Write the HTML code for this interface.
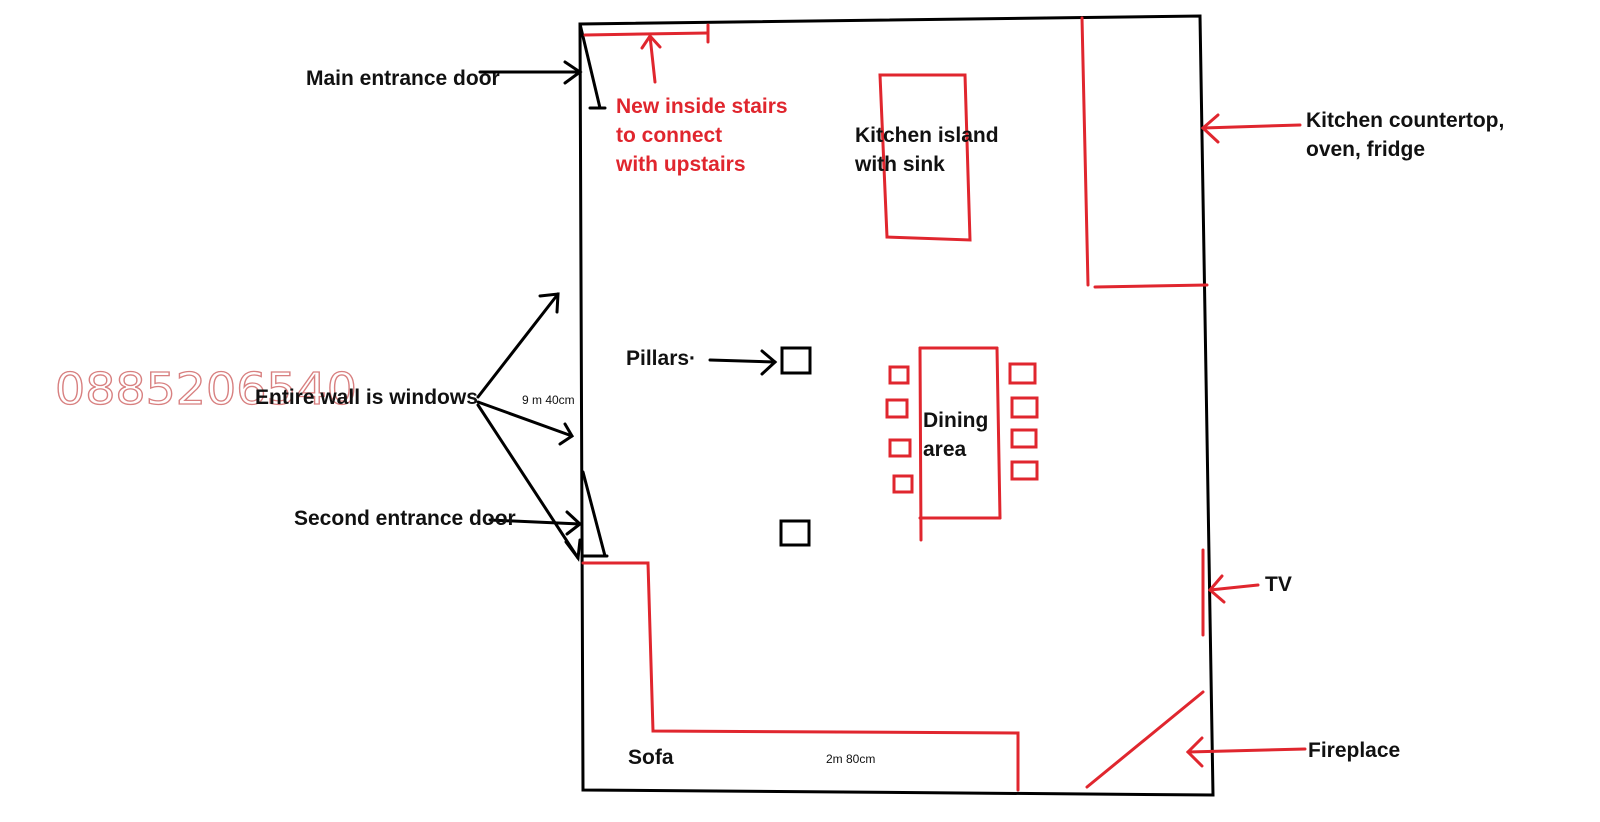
<!DOCTYPE html>
<html><head><meta charset="utf-8"><style>
html,body{margin:0;padding:0;background:#fff;width:1600px;height:822px;overflow:hidden}
svg{display:block}
text{font-family:"Liberation Sans",sans-serif}
.b{font-weight:bold;font-size:21px;fill:#111}
.r{font-weight:bold;font-size:21px;fill:#e0262e}
</style></head><body>
<svg width="1600" height="822" viewBox="0 0 1600 822" xmlns="http://www.w3.org/2000/svg">
<g fill="none" stroke="#000" stroke-width="3" stroke-linecap="round">
<polygon points="580,24 1200,16 1213,795 583,790"/>
<line x1="580" y1="24" x2="600" y2="108"/><line x1="590" y1="108" x2="605" y2="108"/>
<line x1="583" y1="472" x2="605" y2="556"/><line x1="583" y1="556" x2="607" y2="556"/>
<rect x="782" y="348" width="28" height="25"/>
<rect x="781" y="521" width="28" height="24"/>
<line x1="480" y1="72" x2="580" y2="72"/><polyline points="565,62 580,72 565,83"/>
<line x1="710" y1="360" x2="775" y2="362"/><polyline points="762,351 775,362 762,374"/>
<line x1="478" y1="397" x2="558" y2="294"/><polyline points="540,296 558,294 557,312"/>
<line x1="478" y1="402" x2="572" y2="436"/><polyline points="565,424 572,436 560,444"/>
<line x1="478" y1="405" x2="578" y2="558"/><polyline points="566,542 578,558 580,540"/>
<line x1="490" y1="520" x2="580" y2="524"/><polyline points="567,512 580,524 567,534"/>
</g>
<g fill="none" stroke="#e0262e" stroke-width="3" stroke-linecap="round">
<line x1="585" y1="35" x2="708" y2="33"/><line x1="708" y1="25" x2="708" y2="42"/>
<line x1="655" y1="82" x2="650" y2="36"/><polyline points="642,48 650,36 660,47"/>
<polygon points="880,75 965,75 970,240 887,237"/>
<line x1="1082" y1="18" x2="1088" y2="285"/><line x1="1095" y1="287" x2="1207" y2="285"/>
<line x1="1300" y1="125" x2="1203" y2="128"/><polyline points="1218,115 1203,128 1218,142"/>
<line x1="920" y1="348" x2="997" y2="348"/><line x1="997" y1="348" x2="1000" y2="518"/>
<line x1="1000" y1="518" x2="920" y2="518"/><line x1="920" y1="348" x2="921" y2="540"/>
<rect x="890" y="367" width="18" height="16"/><rect x="887" y="400" width="20" height="17"/>
<rect x="890" y="440" width="20" height="16"/><rect x="894" y="476" width="18" height="16"/>
<rect x="1010" y="364" width="25" height="19"/><rect x="1012" y="398" width="25" height="19"/>
<rect x="1012" y="430" width="24" height="17"/><rect x="1012" y="462" width="25" height="17"/>
<polyline points="583,563 648,563 653,731 1018,733 1018,790"/>
<line x1="1203" y1="550" x2="1203" y2="635"/>
<line x1="1258" y1="585" x2="1210" y2="590"/><polyline points="1222,576 1210,590 1224,602"/>
<line x1="1087" y1="787" x2="1203" y2="692"/>
<line x1="1305" y1="749" x2="1188" y2="752"/><polyline points="1202,738 1188,752 1202,766"/>
</g>
<text x="55" y="404" font-size="44" fill="none" stroke="#d88080" stroke-width="1.3" style="font-family:'DejaVu Sans',sans-serif" textLength="302" lengthAdjust="spacingAndGlyphs">0885206540</text>
<text class="b" x="306" y="85">Main entrance door</text>
<text class="r" x="616" y="113">New inside stairs</text>
<text class="r" x="616" y="142">to connect</text>
<text class="r" x="616" y="171">with upstairs</text>
<text class="b" x="855" y="142">Kitchen island</text>
<text class="b" x="855" y="171">with sink</text>
<text class="b" x="1306" y="127">Kitchen countertop,</text>
<text class="b" x="1306" y="156">oven, fridge</text>
<text class="b" x="626" y="365">Pillars·</text>
<text class="b" x="255" y="404">Entire wall is windows</text>
<text x="522" y="404" font-size="12" fill="#111">9 m 40cm</text>
<text class="b" x="923" y="427">Dining</text>
<text class="b" x="923" y="456">area</text>
<text class="b" x="294" y="525">Second entrance door</text>
<text class="b" x="1265" y="591">TV</text>
<text class="b" x="628" y="764">Sofa</text>
<text x="826" y="763" font-size="12" fill="#111">2m 80cm</text>
<text class="b" x="1308" y="757">Fireplace</text>
</svg>
</body></html>
